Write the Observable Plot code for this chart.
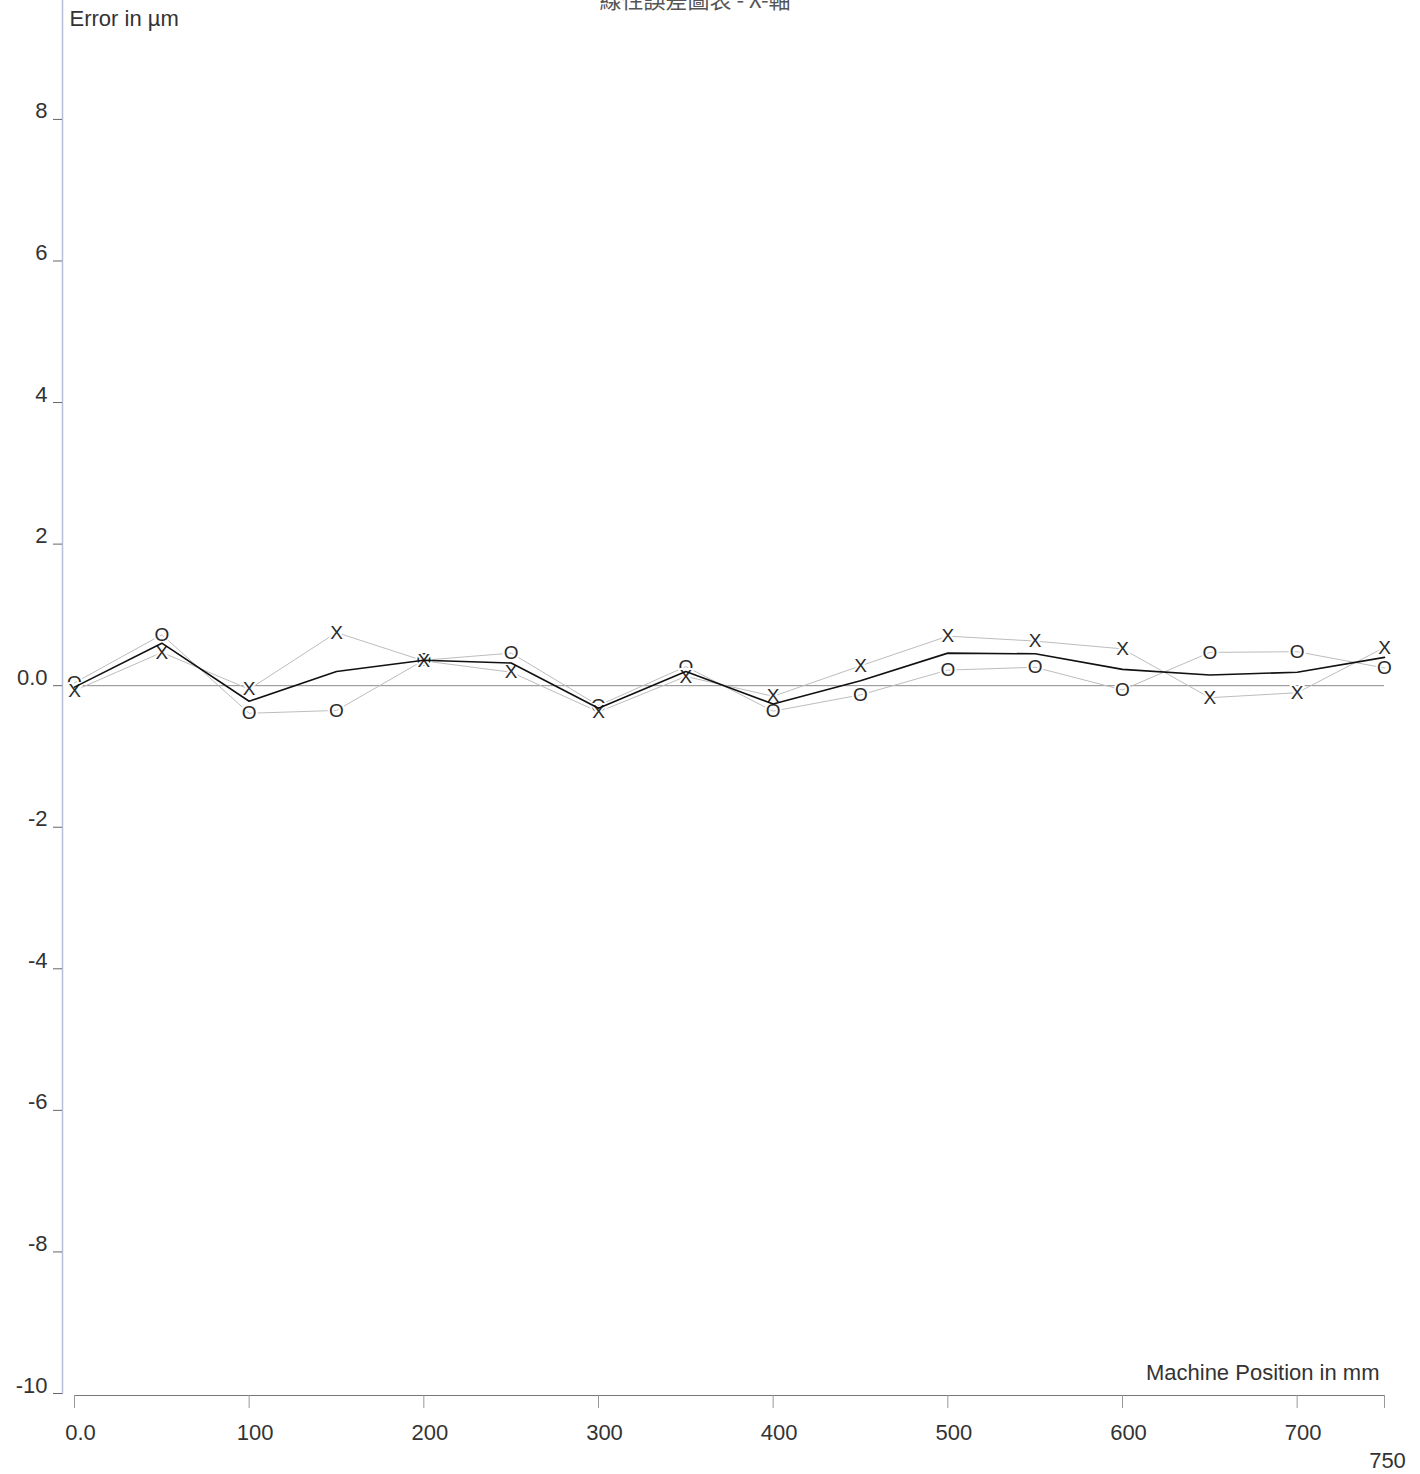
<!DOCTYPE html>
<html>
<head>
<meta charset="utf-8">
<script src="https://cdn.jsdelivr.net/npm/d3@7"></script>
<script src="https://cdn.jsdelivr.net/npm/@observablehq/plot@0.6"></script>
<style>
  html, body { margin: 0; padding: 0; background: #fff; overflow: hidden; }
  #wrap { position: relative; width: 1420px; height: 1474px; }
  #title { position: absolute; top: -14px; left: 0; width: 1390px; text-align: center;
           font-family: "Noto Sans CJK TC", "Noto Sans CJK SC", sans-serif; font-size: 22px;
           line-height: 24px; color: #555; }
  #chart { position: absolute; top: 0; left: 0; }
</style>
</head>
<body>
<div id="wrap">
  <div id="chart"></div>
  <div id="title">線性誤差圖表 - X-軸</div>
</div>
<script>
// Machine positions (mm)
const positions = [0, 50, 100, 150, 200, 250, 300, 350, 400, 450, 500, 550, 600, 650, 700, 750];
// Run "o" errors (µm)
const runO = [0.04, 0.72, -0.39, -0.35, 0.36, 0.46, -0.28, 0.27, -0.36, -0.13, 0.22, 0.26, -0.06, 0.47, 0.48, 0.25];
// Run "x" errors (µm)
const runX = [-0.07, 0.47, -0.05, 0.75, 0.35, 0.19, -0.37, 0.13, -0.15, 0.28, 0.70, 0.63, 0.52, -0.17, -0.10, 0.54];
// Mean line (µm)
const meanLine = [-0.02, 0.60, -0.22, 0.20, 0.36, 0.32, -0.32, 0.20, -0.26, 0.07, 0.46, 0.45, 0.23, 0.15, 0.19, 0.40];

const yTicks = [8, 6, 4, 2, 0, -2, -4, -6, -8, -10];
const yTickLabels = ["8", "6", "4", "2", "0.0", "-2", "-4", "-6", "-8", "-10"];
const xTicks = [0, 100, 200, 300, 400, 500, 600, 700, 750];
const xTickLabels = ["0.0", "100", "200", "300", "400", "500", "600", "700", "750"];
const seriesNames = ["o", "x"];
const seriesGlyphs = ["O", "X"];

const seriesData = [runO, runX].flatMap((vals, i) =>
  positions.map((p, j) => ({ series: seriesNames[i], glyph: seriesGlyphs[i], x: p, y: vals[j] })));
const meanData = positions.map((p, j) => ({ x: p, y: meanLine[j] }));
const yLabelMap = new Map(yTicks.map((t, i) => [t, yTickLabels[i]]));
const xLabelMap = new Map(xTicks.map((t, i) => [t, xTickLabels[i]]));
const xMain = xTicks.slice(0, -1);
const xLast = xTicks.slice(-1);

const font = "'Liberation Sans', Arial, sans-serif";

const chart = Plot.plot({
  width: 1420,
  height: 1474,
  marginTop: 0,
  marginLeft: 62,
  marginRight: 38,
  marginBottom: 81,
  style: { fontFamily: font, color: "#333", background: "#fff" },
  x: { domain: [0, 750], range: [74, 1384] },
  y: { domain: [-10, 9.68], range: [1393, 0] },
  marks: [
    // y axis line
    Plot.frame({ anchor: "left", stroke: "#b9bed6", strokeWidth: 1.5 }),
    // y ticks and labels
    Plot.axisY(yTicks, { anchor: "left", text: null, tickSize: 9, stroke: "#666", label: null }),
    Plot.axisY(yTicks, { anchor: "left", tickSize: 0, tickPadding: 15, dy: -8, fontSize: 22, fill: "#333",
      tickFormat: d => yLabelMap.get(d), label: null }),
    // x axis line
    Plot.ruleY([-10], { x1: 0, x2: 750, dy: 2, stroke: "#777", strokeWidth: 1.2 }),
    Plot.axisX(xTicks, { anchor: "bottom", text: null, tickSize: 13, dy: 2, stroke: "#999", label: null }),
    Plot.axisX(xMain, { anchor: "bottom", tickSize: 0, tickPadding: 31, dx: 6, fontSize: 22, fill: "#333",
      tickFormat: d => xLabelMap.get(d), label: null }),
    Plot.axisX(xLast, { anchor: "bottom", tickSize: 0, tickPadding: 59, dx: 3, fontSize: 22, fill: "#333",
      tickFormat: d => xLabelMap.get(d), label: null }),
    // zero line
    Plot.ruleY([0], { x1: 0, x2: 750, stroke: "#8a8a8a", strokeWidth: 1 }),
    // run lines
    Plot.line(seriesData, { x: "x", y: "y", z: "series", stroke: "#bdbdbd", strokeWidth: 1 }),
    // markers with white halo to break lines
    Plot.text(seriesData, { x: "x", y: "y", text: "glyph", fontSize: 19, fill: "#2a2a2a",
      stroke: "white", strokeWidth: 4, textAnchor: "middle", lineAnchor: "middle" }),
    // mean line
    Plot.line(meanData, { x: "x", y: "y", stroke: "#111", strokeWidth: 1.6 }),
    // axis titles
    Plot.text(["Error in µm"], { frameAnchor: "top-left", dx: 7, dy: 10, fontSize: 22, fill: "#333",
      textAnchor: "start", lineAnchor: "top" }),
    Plot.text(["Machine Position in mm"], { frameAnchor: "bottom-right", dx: -3, dy: -14, fontSize: 22,
      fill: "#333", textAnchor: "end", lineAnchor: "bottom" })
  ]
});
document.getElementById("chart").appendChild(chart);
</script>
</body>
</html>
